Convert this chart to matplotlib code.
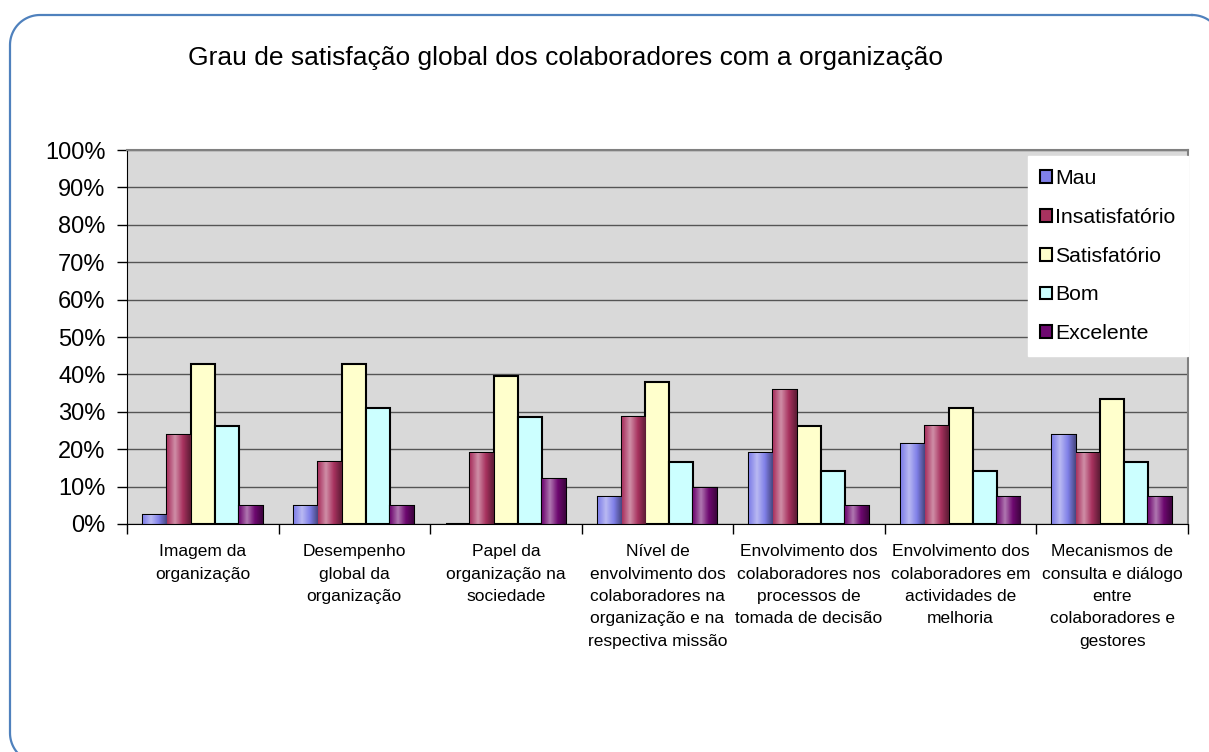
import numpy as np
import matplotlib
matplotlib.use("Agg")
import matplotlib.pyplot as plt
from matplotlib.patches import Patch
from matplotlib.colors import LinearSegmentedColormap, to_rgb
from matplotlib.ticker import PercentFormatter, FixedLocator

plt.rcParams["font.family"] = ["Liberation Sans", "DejaVu Sans"]

categories = [
    "Imagem da\norganização",
    "Desempenho\nglobal da\norganização",
    "Papel da\norganização na\nsociedade",
    "Nível de\nenvolvimento dos\ncolaboradores na\norganização e na\nrespectiva missão",
    "Envolvimento dos\ncolaboradores nos\nprocessos de\ntomada de decisão",
    "Envolvimento dos\ncolaboradores em\nactividades de\nmelhoria",
    "Mecanismos de\nconsulta e diálogo\nentre\ncolaboradores e\ngestores",
]
series = ["Mau", "Insatisfatório", "Satisfatório", "Bom", "Excelente"]

mau = [2.4, 4.8, 0.0, 7.1, 19.0, 21.4, 23.8]
insatisfatorio = [23.8, 16.7, 19.0, 28.6, 35.7, 26.2, 19.0]
satisfatorio = [42.9, 42.9, 39.5, 38.1, 26.2, 31.0, 33.3]
bom = [26.2, 31.0, 28.6, 16.7, 14.3, 14.3, 16.7]
excelente = [4.8, 4.8, 11.9, 9.5, 4.8, 7.1, 7.1]
values = [mau, insatisfatorio, satisfatorio, bom, excelente]

colors = ["#8080E8", "#A8325F", "#FFFFCC", "#CCFFFF", "#6E0870"]

W, H = 1209, 752
fig = plt.figure(figsize=(W / 100, H / 100), dpi=100)


def rounded_rect(x0, y0, x1, y1, r, n=24):
    # polyline outline of a rounded rectangle (y grows downward)
    pts = []
    corners = [(x1 - r, y0 + r, -90, 0), (x1 - r, y1 - r, 0, 90),
               (x0 + r, y1 - r, 90, 180), (x0 + r, y0 + r, 180, 270)]
    for cx, cy, a0, a1 in corners:
        t = np.radians(np.linspace(a0, a1, n))
        pts.append(np.column_stack([cx + r * np.cos(t), cy + r * np.sin(t)]))
    pts = np.vstack(pts)
    return np.vstack([pts, pts[:1]])


# background axes in pixel units for the rounded outer frame
bg = fig.add_axes([0, 0, 1, 1], zorder=-1)
bg.set_xlim(0, W)
bg.set_ylim(H, 0)
bg.axis("off")
outline = rounded_rect(10, 15, 1222, 763, 30)
bg.plot(outline[:, 0], outline[:, 1], color="#4F81BD", linewidth=1.6)

fig.text(0.468, 0.923, "Grau de satisfação global dos colaboradores com a organização",
         ha="center", va="center", fontsize=19)

ax = fig.add_axes([0.105, 0.3032, 0.8776, 0.4973])
ax.set_facecolor("#D9D9D9")

x = np.arange(len(categories))
w = 0.158


def shade(ax, rect, base):
    # cylinder-like horizontal shading inside each bar
    r, g, b = to_rgb(base)
    light = tuple(min(1, c + (1 - c) * 0.45) for c in (r, g, b))
    dark = tuple(c * 0.55 for c in (r, g, b))
    cmap = LinearSegmentedColormap.from_list("s", [base, light, base, dark])
    h = rect.get_height()
    if h <= 0:
        return
    x0 = rect.get_x()
    im = ax.imshow(np.linspace(0, 1, 64).reshape(1, -1), cmap=cmap, aspect="auto",
                   extent=(x0, x0 + rect.get_width(), 0, h), zorder=2.5,
                   interpolation="bilinear")
    im.set_clip_path(rect)


for i, (name, vals, col) in enumerate(zip(series, values, colors)):
    bars = ax.bar(x + (i - 2) * w, vals, width=w, color=col, edgecolor="black",
                  linewidth=1.5, zorder=2, label=name)
    for rect in bars:
        if name in ("Mau", "Insatisfatório", "Excelente"):
            shade(ax, rect, col)

ax.set_xlim(-0.5, len(categories) - 0.5)
ax.set_ylim(0, 100)
ax.yaxis.set_major_locator(FixedLocator(np.arange(0, 101, 10)))
ax.yaxis.set_major_formatter(PercentFormatter(decimals=0))
ax.grid(axis="y", color="#555555", linewidth=1.0, zorder=1)
ax.set_axisbelow(True)

ax.set_xticks(x)
ax.set_xticklabels(categories, fontsize=12.5, linespacing=1.62, va="top")
ax.set_xticks(np.arange(-0.5, len(categories)), minor=True)
ax.tick_params(axis="x", which="major", length=0, pad=14.5)
ax.tick_params(axis="x", which="minor", length=7, width=1, direction="out")
ax.tick_params(axis="y", length=7, width=1, direction="out", labelsize=17, pad=8.5)

for side in ("top", "right"):
    ax.spines[side].set_color("#808080")
    ax.spines[side].set_linewidth(1.5)
ax.spines["left"].set_color("black")
ax.spines["bottom"].set_color("black")

handles = [Patch(facecolor=c, edgecolor="black", linewidth=1.5) for c in colors]
leg = fig.legend(handles, series, loc="upper left", bbox_to_anchor=(0.850, 0.792),
                 fontsize=15.3, frameon=True, fancybox=False, edgecolor="white",
                 facecolor="white", framealpha=1, handlelength=0.55, handleheight=0.55,
                 handletextpad=0.15, labelspacing=0.93, borderpad=0.6,
                 borderaxespad=0)

fig.savefig("out.png", dpi=100)
